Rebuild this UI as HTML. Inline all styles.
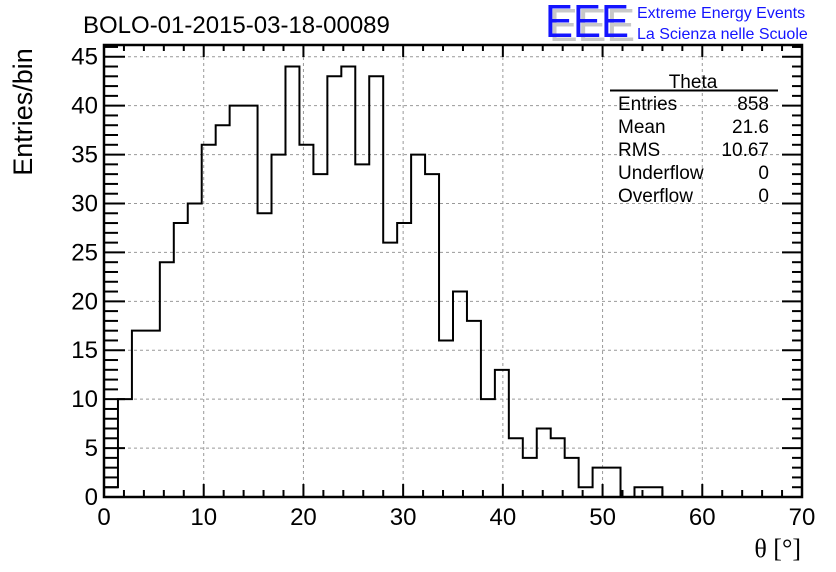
<!DOCTYPE html>
<html><head><meta charset="utf-8"><style>
html,body{margin:0;padding:0;background:#fff;}
svg{display:block;font-family:"Liberation Sans",sans-serif;}
</style></head><body>
<svg id="chart" width="836" height="572" xmlns="http://www.w3.org/2000/svg">
<rect x="0" y="0" width="836" height="572" fill="#fff"/>
<g id="grid"></g>
<g id="hist"></g>
<g id="axes"></g>
<text x="83" y="33" font-size="24">BOLO-01-2015-03-18-00089</text>
<text transform="translate(32,112) rotate(-90)" text-anchor="middle" font-size="27">Entries/bin</text>
<text x="801" y="557" text-anchor="end" font-size="26" font-family="Liberation Serif,serif">θ [°]</text>
<g>
<text x="549" y="41" font-size="46" fill="#c8c8c8" textLength="86" lengthAdjust="spacingAndGlyphs">EEE</text>
<text x="545" y="37" font-size="46" fill="#1414ff" textLength="84" lengthAdjust="spacingAndGlyphs">EEE</text>
<text x="637" y="18" font-size="16" fill="#1414ff">Extreme Energy Events</text>
<text x="637" y="39" font-size="16" fill="#1414ff">La Scienza nelle Scuole</text>
</g>
<g font-size="19">
<text x="693" y="88" text-anchor="middle">Theta</text>
<line x1="610" y1="90.5" x2="778" y2="90.5" stroke="#000" stroke-width="2"/>
<text x="618" y="110">Entries</text><text x="769" y="110" text-anchor="end">858</text>
<text x="618" y="133">Mean</text><text x="769" y="133" text-anchor="end">21.6</text>
<text x="618" y="156">RMS</text><text x="769" y="156" text-anchor="end">10.67</text>
<text x="618" y="179">Underflow</text><text x="769" y="179" text-anchor="end">0</text>
<text x="618" y="202">Overflow</text><text x="769" y="202" text-anchor="end">0</text>
</g>
</svg>
<script>
const binEdgesStart = 0;
const binWidth = 1.4;
const counts = [1,10,17,17,24,28,30,36,38,40,40,29,35,44,36,33,43,44,34,43,26,28,35,33,16,21,18,10,13,6,4,7,6,4,1,3,3,0,1,1,0,0,0,0,0,0,0,0,0,0];
const xTicks = [0,10,20,30,40,50,60,70];
const yTicks = [0,5,10,15,20,25,30,35,40,45];
const xMin=0,xMax=70,yMin=0,yMax=46.2;
const L=104,R=802,T=45,B=497;
const NS="http://www.w3.org/2000/svg";
function X(v){return L+(v-xMin)/(xMax-xMin)*(R-L);}
function Y(v){return B-(v-yMin)/(yMax-yMin)*(B-T);}
function mk(tag,attrs,parent){const e=document.createElementNS(NS,tag);for(const k in attrs)e.setAttribute(k,attrs[k]);parent.appendChild(e);return e;}
const grid=document.getElementById('grid'),hist=document.getElementById('hist'),axes=document.getElementById('axes');
xTicks.forEach(t=>{if(t>xMin&&t<xMax){const l=mk('line',{x1:X(t),x2:X(t),y1:T,y2:B,stroke:'#999','stroke-dasharray':'3,3','stroke-width':1},grid);

}});
yTicks.forEach(t=>{if(t>yMin){const l=mk('line',{x1:L,x2:R,y1:Y(t),y2:Y(t),stroke:'#999','stroke-dasharray':'3,3','stroke-width':1},grid);

}});
let d='M'+X(binEdgesStart)+','+Y(0);
counts.forEach((c,i)=>{const x0=X(binEdgesStart+i*binWidth),x1=X(binEdgesStart+(i+1)*binWidth);d+=' L'+x0+','+Y(c)+' L'+x1+','+Y(c);});
d+=' L'+X(binEdgesStart+counts.length*binWidth)+','+Y(0);
const p=mk('path',{d:d,fill:'none',stroke:'#000','stroke-width':2},hist);


const fr=mk('rect',{x:L,y:T,width:R-L,height:B-T,fill:'none',stroke:'#000','stroke-width':2.5},axes);


for(let v=xMin;v<=xMax;v+=2){const major=v%10===0;
mk('line',{x1:X(v),x2:X(v),y1:B,y2:B-(major?13:7),stroke:'#000','stroke-width':2},axes);
mk('line',{x1:X(v),x2:X(v),y1:T,y2:T+(major?12:6),stroke:'#000','stroke-width':2},axes);}
xTicks.forEach(t=>{const tx=mk('text',{x:X(t),y:B+28,'text-anchor':'middle','font-size':24},axes);tx.textContent=t;

});
for(let v=yMin;v<=46;v+=1){const major=v%5===0;
mk('line',{x1:L,x2:L+(major?21:14),y1:Y(v),y2:Y(v),stroke:'#000','stroke-width':2},axes);
mk('line',{x1:R,x2:R-(major?20:10),y1:Y(v),y2:Y(v),stroke:'#000','stroke-width':2},axes);}
yTicks.forEach(t=>{const ty=mk('text',{x:L-6,y:Y(t)+8,'text-anchor':'end','font-size':24},axes);ty.textContent=t;

});
</script>
</body></html>
